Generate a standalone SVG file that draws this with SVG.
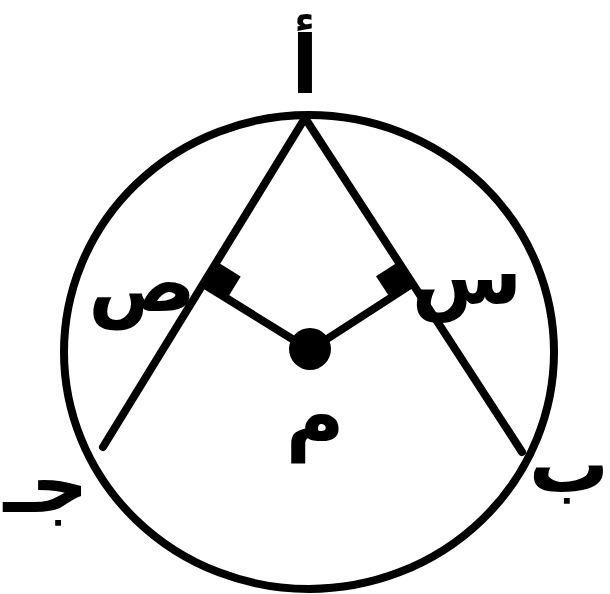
<svg xmlns="http://www.w3.org/2000/svg" width="610" height="594" viewBox="0 0 610 594">
<style>
.ln{stroke:#000;stroke-width:8;fill:none;stroke-linecap:round}
.lb{font-family:"DejaVu Sans",sans-serif;font-weight:bold;font-size:80px;fill:#000;text-anchor:middle}
</style>
<rect width="610" height="594" fill="#fff"/>
<g id="circle"><ellipse cx="309" cy="352" rx="245" ry="237" class="ln"/></g>
<g id="connectors">
<line x1="305" y1="118" x2="522" y2="452" class="ln"/>
<line x1="305" y1="118" x2="103" y2="447" class="ln"/>
<line x1="310" y1="350" x2="412" y2="284" class="ln"/>
<line x1="310" y1="350" x2="205" y2="285" class="ln"/>
<polygon points="412,284 390.2,298.1 376,276.3 397.8,262.2" fill="#000"/>
<polygon points="205,285 227.1,298.7 240.7,276.5 218.6,262.8" fill="#000"/>
</g>
<g id="M"><circle cx="310" cy="349" r="21" fill="#000"/><text class="lb" x="315" y="444">م</text></g>
<g id="A"><text class="lb" x="305" y="93">أ</text></g>
<g id="B"><text class="lb" x="569" y="492">ب</text></g>
<g id="C"><text class="lb" x="46" y="512">جـ</text></g>
<g id="S"><text class="lb" x="467" y="304">س</text></g>
<g id="P"><text class="lb" x="142" y="311">ص</text></g>
</svg>
